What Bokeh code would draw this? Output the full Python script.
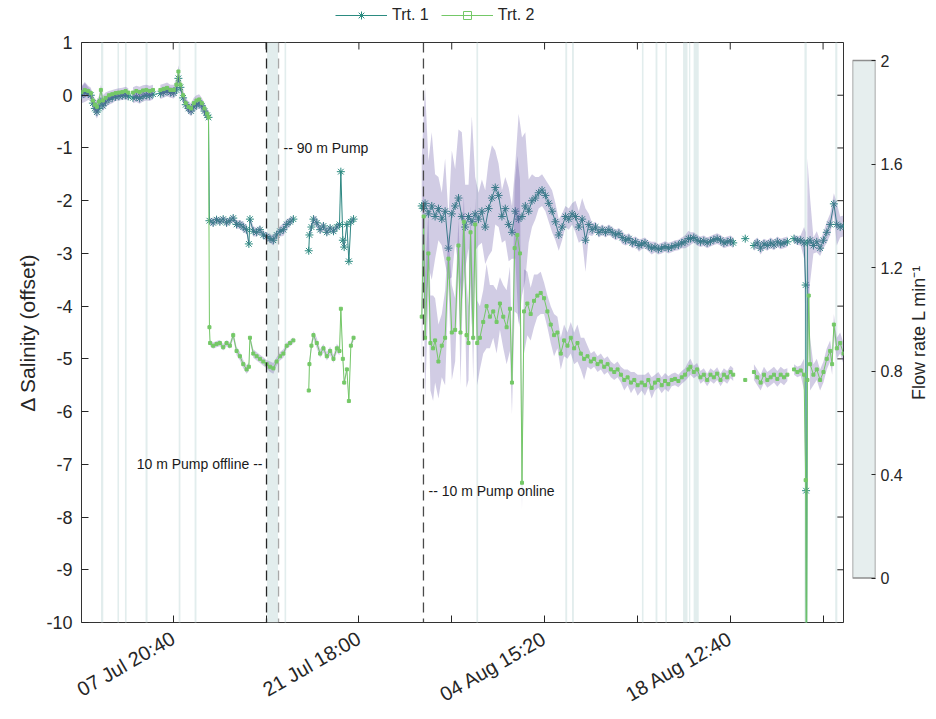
import math
import pandas as pd
from bokeh.plotting import figure
from bokeh.models import Range1d, LinearAxis, FixedTicker, Legend, LegendItem, Span
from bokeh.layouts import row, column
from bokeh.embed import file_html
from bokeh.resources import INLINE
from bokeh.core.properties import value

nan = float("nan")

# ---------------- data (x in days since start_time) ----------------
start_time = "2021-07-01 00:00"

day1 = [
    0.0, 0.25, 0.5, 0.7, 0.85, 1.0, 1.15, 1.3, 1.45, 1.6, 1.8, 2.05, 2.3, 2.55, 2.8, 3.05, 3.3, 3.5,
    3.65,
    3.85, 4.1, 4.35, 4.6, 4.85, 5.1, 5.35,
    5.6,
    5.9, 6.15, 6.4, 6.65, 6.9, 7.1, 7.25, 7.4, 7.6, 7.8, 8.0, 8.2, 8.4, 8.6, 8.8, 9.0, 9.2, 9.4, 9.5,
    9.57, 9.85, 10.1, 10.35, 10.6, 10.85, 11.1, 11.35, 11.6, 11.85, 12.1, 12.35, 12.52, 12.6,
    12.85, 13.1, 13.35, 13.6, 13.85, 14.1, 14.35, 14.6, 14.85, 15.1, 15.35, 15.6, 15.85,
    16.4,
    17.0, 17.05, 17.2, 17.35, 17.6, 17.85, 18.1, 18.35, 18.6, 18.85, 19.1, 19.3, 19.4, 19.55,
    19.65, 19.85, 20.0, 20.15, 20.35,
    22.0,
    25.45, 25.6, 25.7, 25.95, 26.2, 26.45, 26.7, 26.95, 27.2, 27.45,
    27.7, 27.95, 28.2, 28.45, 28.7, 28.95, 29.2, 29.45, 29.7, 29.95,
    30.2, 30.45, 30.7, 30.95, 31.2, 31.45, 31.7, 31.95, 32.2, 32.45,
    32.7, 32.95, 33.2, 33.45, 33.7, 33.95, 34.2, 34.45, 34.7, 34.95,
    35.2, 35.45, 35.7, 35.95, 36.2, 36.45, 36.7, 36.95, 37.2, 37.45,
    37.7, 37.95, 38.2, 38.45, 38.7, 38.95, 39.2, 39.45, 39.7, 39.95,
    40.2, 40.45, 40.7, 40.95, 41.2, 41.45, 41.7, 41.9, 42.15, 42.4,
    42.65, 42.9, 43.15, 43.4, 43.65, 43.9, 44.15, 44.4, 44.65, 44.9,
    45.15, 45.4, 45.55, 45.8, 46.05, 46.3, 46.55, 46.8, 47.05, 47.3,
    47.55, 47.8, 48.05, 48.3, 48.55, 48.75, 49.2, 49.65, 49.9, 50.3,
    50.55, 50.8, 51.05, 51.3, 51.55, 51.8, 52.05, 52.3, 52.55, 52.8,
    53.0, 53.3, 53.55, 53.8, 54.05, 54.17, 54.2, 54.23, 54.3, 54.5,
    54.75, 55.0, 55.25, 55.5, 55.75, 56.0, 56.28, 56.5, 56.75, 57.0,
]
trt1 = [
    0.0, 0.05, 0.03, 0.0, -0.15, -0.25, -0.32, -0.25, -0.12, -0.2, -0.13, -0.08, -0.05, -0.03, -0.02, -0.01, 0.0, -0.02,
    nan,
    -0.05, -0.03, -0.06, -0.02, 0.0, -0.01, 0.02,
    nan,
    0.03, 0.05, 0.08, 0.05, 0.04, 0.1, 0.32, 0.15, -0.05, -0.18, -0.25, -0.3, -0.22, -0.18, -0.15, -0.2, -0.3, -0.38, -0.42,
    -2.38, -2.42, -2.36, -2.4, -2.35, -2.42, -2.38, -2.33, -2.45, -2.45, -2.5, -2.55, -2.82, -2.35,
    -2.58, -2.6, -2.55, -2.65, -2.68, -2.72, -2.75, -2.65, -2.58, -2.55, -2.45, -2.4, -2.35,
    nan,
    -2.95, -2.65, -2.5, -2.35, -2.42, -2.55, -2.48, -2.6, -2.52, -2.58, -2.5, -2.45, -1.45, -2.75,
    -2.88, -2.45, -3.15, -2.4, -2.35,
    nan,
    -2.1, -2.15, -2.05, -2.25, -2.1, -2.3, -2.15, -2.35, -2.2, -2.9,
    -2.25, -2.1, -1.95, -2.3, -2.5, -2.3, -2.4, -2.25, -2.35, -2.2,
    -2.5, -2.15, -1.95, -1.75, -1.9, -2.3, -2.15, -2.45, -2.6, -2.2,
    -2.35, -2.3, -2.1, -2.2, -2.0, -1.95, -1.85, -1.8, -1.9, -2.05,
    -2.2, -2.4, -2.65, -2.5, -2.3, -2.35, -2.25, -2.3, -2.5, -2.35,
    -2.75, -2.45, -2.55, -2.5, -2.6, -2.55, -2.6, -2.55, -2.6, -2.65,
    -2.62, -2.7, -2.75, -2.72, -2.8, -2.78, -2.85, -2.82, -2.8, -2.86,
    -2.9, -2.88, -2.92, -2.9, -2.87, -2.9, -2.88, -2.85, -2.84, -2.8,
    -2.78, -2.72, -2.72, -2.7, -2.75, -2.78, -2.76, -2.8, -2.77, -2.74,
    -2.72, -2.75, -2.8, -2.78, -2.76, -2.8, nan, -2.72, nan, -2.85,
    -2.8, -2.9, -2.82, -2.85, -2.8, -2.84, -2.78, -2.82, -2.8, -2.78,
    nan, -2.72, -2.76, -2.75, -2.8, -3.6, -7.5, -12.0, -2.8, -2.75,
    -2.85, -2.78, -2.9, -2.75, -2.6, -2.45, -2.06, -2.45, -2.5, -2.48,
]
sd1 = [
    0.15, 0.18, 0.12, 0.1, 0.12, 0.12, 0.12, 0.1, 0.1, 0.1, 0.1, 0.1, 0.1, 0.08, 0.08, 0.08, 0.08, 0.08,
    0.0,
    0.1, 0.1, 0.1, 0.1, 0.1, 0.1, 0.1,
    0.0,
    0.1, 0.1, 0.1, 0.1, 0.1, 0.1, 0.12, 0.1, 0.1, 0.1, 0.1, 0.1, 0.1, 0.1, 0.1, 0.1, 0.1, 0.08, 0.08,
    0.06, 0.08, 0.06, 0.07, 0.06, 0.08, 0.06, 0.07, 0.08, 0.08, 0.1, 0.08, 0.06, 0.06,
    0.1, 0.08, 0.08, 0.07, 0.08, 0.08, 0.1, 0.08, 0.1, 0.12, 0.1, 0.08, 0.06,
    0.0,
    0.06, 0.06, 0.08, 0.08, 0.1, 0.08, 0.08, 0.08, 0.06, 0.06, 0.06, 0.05, 0.05, 0.05,
    0.05, 0.05, 0.05, 0.05, 0.05,
    0.0,
    0.9, 1.8, 2.2, 1.0, 1.4, 0.8, 0.6, 0.5, 1.0, 0.6,
    1.2, 0.7, 1.3, 1.6, 0.8, 0.6, 2.0, 0.7, 0.5, 0.6,
    0.7, 0.9, 1.0, 0.7, 0.6, 0.5, 0.6, 0.7, 0.5, 0.9,
    2.0, 1.5, 1.4, 0.6, 0.5, 0.4, 0.3, 0.3, 0.3, 0.35,
    0.4, 0.35, 0.3, 0.25, 0.2, 0.2, 0.2, 0.3, 0.3, 0.4,
    0.6, 0.2, 0.12, 0.1, 0.1, 0.1, 0.1, 0.1, 0.1, 0.1,
    0.1, 0.12, 0.1, 0.1, 0.1, 0.1, 0.12, 0.1, 0.1, 0.1,
    0.12, 0.1, 0.1, 0.1, 0.1, 0.1, 0.1, 0.1, 0.1, 0.1,
    0.12, 0.15, 0.12, 0.1, 0.1, 0.1, 0.1, 0.1, 0.1, 0.1,
    0.1, 0.1, 0.1, 0.1, 0.1, 0.1, 0.0, 0.05, 0.0, 0.1,
    0.1, 0.12, 0.1, 0.1, 0.1, 0.1, 0.1, 0.1, 0.1, 0.1,
    0.0, 0.08, 0.08, 0.1, 0.3, 1.0, 0.5, 0.5, 1.6, 0.8,
    0.15, 0.2, 0.15, 0.15, 0.2, 0.2, 0.2, 0.4, 0.2, 0.2,
]

day2 = [
    0.0, 0.25, 0.5, 0.7, 0.85, 1.0, 1.15, 1.3, 1.45, 1.6, 1.8, 2.05, 2.3, 2.55, 2.8, 3.05, 3.3, 3.5,
    3.65,
    3.85, 4.1, 4.35, 4.6, 4.85, 5.1, 5.35,
    5.6,
    5.9, 6.15, 6.4, 6.65, 6.9, 7.1, 7.25, 7.4, 7.6, 7.8, 8.0, 8.2, 8.4, 8.6, 8.8, 9.0, 9.2, 9.4, 9.5,
    9.57, 9.62, 9.85, 10.1, 10.35, 10.6, 10.85, 11.1, 11.35, 11.6, 11.85, 12.1, 12.35, 12.52,
    12.6, 12.85, 13.1, 13.35, 13.6, 13.85, 14.1, 14.35, 14.6, 14.85, 15.1, 15.35, 15.6, 15.85,
    16.4,
    17.0, 17.05, 17.2, 17.35, 17.6, 17.85, 18.1, 18.35, 18.6, 18.85, 19.1, 19.3, 19.4, 19.55,
    19.65, 19.85, 20.0, 20.15, 20.35,
    22.0,
    25.45, 25.6, 25.7, 25.95, 26.1, 26.3, 26.45, 26.7, 26.95, 27.2,
    27.45, 27.7, 27.95, 28.2, 28.35, 28.6, 28.8, 28.95, 29.1, 29.3,
    29.45, 29.6, 29.8, 30.05, 30.3, 30.55, 30.8, 31.05, 31.3, 31.55,
    31.8, 32.05, 32.2, 32.4, 32.6, 32.8, 32.95, 33.1, 33.35, 33.6,
    33.85, 34.1, 34.35, 34.6, 34.85, 35.1, 35.35, 35.6, 35.85, 36.1,
    36.35, 36.6, 36.85, 37.1, 37.35, 37.6, 37.85, 38.1, 38.35, 38.6,
    38.85, 39.1, 39.35, 39.6, 39.85, 40.1, 40.35, 40.6, 40.85, 41.1,
    41.35, 41.6, 41.9, 42.15, 42.4, 42.65, 42.9, 43.15, 43.4, 43.65,
    43.9, 44.15, 44.4, 44.65, 44.9, 45.15, 45.4, 45.55, 45.8, 46.05,
    46.3, 46.55, 46.8, 47.05, 47.3, 47.55, 47.8, 48.05, 48.3, 48.55,
    48.75, 49.2, 49.65, 49.9, 50.3, 50.55, 50.8, 51.05, 51.3, 51.55,
    51.8, 52.05, 52.3, 52.55, 52.8, 53.0, 53.3, 53.55, 53.8, 54.05,
    54.17, 54.23, 54.3, 54.4, 54.5, 54.75, 55.0, 55.25, 55.5, 55.75,
    56.0, 56.15, 56.28, 56.5, 56.75, 57.0,
]
trt2 = [
    0.06, 0.1, 0.08, 0.04, -0.1, -0.18, -0.22, -0.12, 0.1, -0.1, -0.05, 0.0, 0.02, 0.04, 0.05, 0.06, 0.08, 0.05,
    nan,
    0.05, 0.08, 0.06, 0.09, 0.1, 0.08, 0.1,
    nan,
    0.1, 0.12, 0.14, 0.1, 0.1, 0.2, 0.45, 0.2, 0.0, -0.15, -0.22, -0.25, -0.15, -0.1, -0.08, -0.15, -0.25, -0.35, -0.42,
    -4.4, -4.7, -4.75, -4.72, -4.7, -4.78, -4.7, -4.75, -4.55, -4.85, -4.95, -5.1, -5.2, -5.15,
    -4.6, -4.9, -4.95, -5.0, -5.05, -5.1, -5.15, -5.18, -5.05, -4.95, -4.9, -4.75, -4.7, -4.65,
    nan,
    -5.6, -5.1, -4.75, -4.55, -4.7, -4.9, -4.8, -4.95, -4.85, -5.0, -4.8, -4.85, -4.05, -5.0,
    -5.45, -5.2, -5.8, -4.75, -4.6,
    nan,
    -4.2, -2.3, -4.6, -3.0, -4.7, -4.8, -4.65, -5.05, -4.75, -4.6,
    -3.1, -4.5, -4.45, -2.85, -4.5, -2.4, -4.55, -4.7, -2.6, -4.6,
    -2.45, -4.7, -4.6, -4.3, -4.0, -4.2, -4.1, -4.3, -3.95, -4.2,
    -4.4, -4.05, -5.45, -2.9, -2.65, -3.0, -7.35, -4.1, -3.95, -4.15,
    -3.9, -3.8, -3.75, -3.85, -4.1, -4.35, -4.55, -4.5, -4.9, -4.65,
    -4.75, -4.6, -4.8, -4.7, -4.9, -5.0, -4.95, -5.05, -5.0, -5.1,
    -5.05, -5.15, -5.1, -5.2, -5.25, -5.2, -5.3, -5.4, -5.35, -5.45,
    -5.4, -5.5, -5.45, -5.5, -5.4, -5.55, -5.45, -5.4, -5.5, -5.42,
    -5.48, -5.4, -5.38, -5.42, -5.35, -5.3, -5.2, -5.15, -5.25, -5.2,
    -5.35, -5.3, -5.4, -5.3, -5.35, -5.28, -5.4, -5.3, -5.35, -5.25,
    -5.3, nan, -5.4, nan, -5.25, -5.35, -5.45, -5.3, -5.4, -5.35,
    -5.3, -5.38, -5.3, -5.35, -5.3, nan, -5.2, -5.25, -5.22, -5.3,
    -7.3, -12.0, -5.4, -3.8, -5.1, -5.3, -5.2, -5.4, -5.25, -5.0,
    -4.85, -5.1, -4.35, -4.8, -4.7, -4.9,
]
sd2 = [
    0.12, 0.15, 0.1, 0.1, 0.1, 0.12, 0.12, 0.1, 0.1, 0.1, 0.1, 0.08, 0.08, 0.08, 0.08, 0.08, 0.08, 0.08,
    0.0,
    0.1, 0.1, 0.1, 0.1, 0.1, 0.1, 0.1,
    0.0,
    0.1, 0.1, 0.1, 0.1, 0.1, 0.1, 0.12, 0.1, 0.1, 0.1, 0.1, 0.1, 0.1, 0.1, 0.1, 0.1, 0.1, 0.1, 0.1,
    0.06, 0.06, 0.06, 0.06, 0.06, 0.06, 0.06, 0.06, 0.08, 0.08, 0.08, 0.08, 0.08, 0.08,
    0.06, 0.08, 0.08, 0.08, 0.08, 0.08, 0.1, 0.1, 0.08, 0.08, 0.08, 0.06, 0.06, 0.06,
    0.0,
    0.08, 0.08, 0.08, 0.08, 0.1, 0.08, 0.08, 0.08, 0.08, 0.08, 0.08, 0.08, 0.06, 0.06,
    0.06, 0.06, 0.06, 0.06, 0.06,
    0.0,
    1.0, 0.8, 1.2, 0.8, 0.9, 1.0, 0.8, 0.7, 0.6, 0.9,
    0.5, 0.9, 0.6, 0.5, 1.0, 0.5, 1.0, 0.7, 0.5, 0.8,
    0.5, 0.8, 0.6, 0.6, 0.8, 0.6, 0.5, 0.6, 0.5, 0.6,
    0.7, 0.8, 0.6, 1.2, 1.5, 1.4, 0.5, 0.8, 0.6, 0.5,
    0.5, 0.4, 0.4, 0.3, 0.3, 0.35, 0.4, 0.3, 0.3, 0.3,
    0.25, 0.3, 0.3, 0.35, 0.3, 0.4, 0.2, 0.15, 0.15, 0.15,
    0.15, 0.15, 0.15, 0.15, 0.15, 0.15, 0.15, 0.2, 0.15, 0.2,
    0.15, 0.2, 0.15, 0.2, 0.15, 0.2, 0.15, 0.15, 0.15, 0.15,
    0.15, 0.12, 0.12, 0.12, 0.12, 0.12, 0.15, 0.15, 0.12, 0.12,
    0.12, 0.12, 0.12, 0.12, 0.12, 0.12, 0.12, 0.12, 0.12, 0.12,
    0.12, 0.0, 0.05, 0.0, 0.15, 0.15, 0.15, 0.15, 0.15, 0.15,
    0.15, 0.15, 0.15, 0.15, 0.12, 0.0, 0.1, 0.1, 0.1, 0.3,
    0.5, 0.5, 1.0, 0.6, 0.5, 0.2, 0.2, 0.2, 0.2, 0.2,
    0.2, 0.2, 0.2, 0.2, 0.2, 0.2,
]

# periods with pumped flow (light vertical bands), days
band_start = [1.46, 2.69, 3.25, 4.79, 7.27, 8.46, 13.88, 15.19, 29.54, 36.19, 36.69,
              41.92, 42.94, 43.67, 45.0, 45.44, 45.79, 54.08, 56.38]
band_end = [1.63, 2.81, 3.375, 4.94, 7.40, 8.60, 14.70, 15.31, 29.67, 36.33, 36.83,
            42.04, 43.08, 43.79, 45.33, 45.54, 46.17, 54.25, 56.54]

# events (dashed lines) and their notes
event_days = [13.84, 14.74, 25.58]
event_text = ["10 m Pump offline --", "-- 90 m Pump", "-- 10 m Pump online"]
event_text_y = [-7.0, -1.0, -7.5]

# axes
x_end_day = 57.0
tick_times = ["2021-07-07 20:40", "2021-07-14 19:20", "2021-07-21 18:00", "2021-07-28 16:40",
              "2021-08-04 15:20", "2021-08-11 14:00", "2021-08-18 12:40", "2021-08-25 11:20"]
tick_labels = ["07 Jul 20:40", "", "21 Jul 18:00", "", "04 Aug 15:20", "", "18 Aug 12:40", ""]
y_ticks = [-10, -9, -8, -7, -6, -5, -4, -3, -2, -1, 0, 1]
y_labels = ["-10", "-9", "-8", "-7", "-6", "-5", "-4", "-3", "-2", "-1", "0", "1"]
flow_ticks = [0.0, 0.4, 0.8, 1.2, 1.6, 2.0]
flow_labels = ["0", "0.4", "0.8", "1.2", "1.6", "2"]
series_names = ["Trt. 1", "Trt. 2"]

assert len(day1) == len(trt1) == len(sd1), (len(day1), len(trt1), len(sd1))
assert len(day2) == len(trt2) == len(sd2), (len(day2), len(trt2), len(sd2))

# ---------------- helpers ----------------
T0_MS = pd.Timestamp(start_time).value // 10**6
DAY_MS = 86_400_000


def to_ms(days):
    return [T0_MS + d * DAY_MS for d in days]


FONT = "Liberation Sans"
TXT = "#262626"
C1 = "#2b8b80"
C2 = "#74c867"
ENV = "#6656a6"
BAND = "#e2eded"
FLOW_FILL = "#e6eeee"
LEG_H = 30                     # height of the legend strip above the plots
TOP, BOTTOM = 12, 97           # shared frame borders of the plot row
ROW_H = 719 - LEG_H

x1 = to_ms(day1)
x2 = to_ms(day2)
tick_ms = [pd.Timestamp(t).value // 10**6 for t in tick_times]
x_lo, x_hi = T0_MS, T0_MS + x_end_day * DAY_MS

p = figure(width=851, height=ROW_H, x_range=Range1d(x_lo, x_hi),
           y_range=Range1d(y_ticks[0], y_ticks[-1]), x_axis_type=None, y_axis_type=None,
           output_backend="svg", toolbar_location=None,
           min_border_left=81, min_border_right=8, min_border_top=TOP, min_border_bottom=BOTTOM)
p.outline_line_color = "#333333"
p.outline_line_width = 1
p.background_fill_color = "white"
p.border_fill_color = "white"


def style_axis(ax, size):
    ax.axis_line_color = None
    ax.major_tick_line_color = TXT
    ax.major_tick_in = 7
    ax.major_tick_out = 0
    ax.minor_tick_line_color = None
    ax.major_label_text_font = FONT
    ax.major_label_text_font_size = size
    ax.major_label_text_color = TXT
    ax.axis_label_text_font = FONT
    ax.axis_label_text_font_style = "normal"
    ax.axis_label_text_color = TXT


yl = LinearAxis(ticker=FixedTicker(ticks=y_ticks), axis_label="\u0394 Salinity (offset)",
                major_label_overrides=dict(zip(y_ticks, y_labels)))
style_axis(yl, "18px")
yl.major_label_standoff = 9
yl.axis_label_text_font_size = "21px"
yl.axis_label_standoff = 4
p.add_layout(yl, "left")

xb = LinearAxis(ticker=FixedTicker(ticks=tick_ms),
                major_label_overrides=dict(zip(tick_ms, tick_labels)))
style_axis(xb, "20px")
xb.major_label_orientation = math.radians(30)
xb.major_label_standoff = 14
p.add_layout(xb, "below")

# mirrored box ticks on the right and top edges (half of each dash is clipped by the frame)
p.scatter(x=[x_hi] * len(y_ticks), y=y_ticks, marker="dash", size=14, line_color=TXT, line_width=1)
p.scatter(x=tick_ms, y=[y_ticks[-1]] * len(tick_ms), marker="dash", angle=math.pi / 2, size=14,
          line_color=TXT, line_width=1)

# flow-rate bands
p.quad(left=to_ms(band_start), right=to_ms(band_end), bottom=y_ticks[0], top=y_ticks[-1],
       fill_color=BAND, line_color=None)

# Trt. 1
p.line(x1, trt1, line_color=C1, line_width=1)
p.scatter(x1, trt1, marker="asterisk", size=8, line_color=C1, line_width=1)


# envelopes (mean +/- sd)
def chunks(x, v, s):
    out, cur = [], []
    for xi, vi, si in zip(x, v, s):
        if vi != vi:
            if cur:
                out.append(cur)
            cur = []
        else:
            cur.append((xi, vi - si, vi + si))
    if cur:
        out.append(cur)
    return out


for x, v, s in ((x1, trt1, sd1), (x2, trt2, sd2)):
    for c in chunks(x, v, s):
        if len(c) < 2:
            continue
        p.varea(x=[a for a, _, _ in c], y1=[b for _, b, _ in c], y2=[d for _, _, d in c],
                fill_color=ENV, fill_alpha=0.3)

# Trt. 2
p.line(x2, trt2, line_color=C2, line_width=1)
p.scatter(x2, trt2, marker="square", size=3, fill_color=C2, line_color=C2)

# events
ev_colors = ["#262626", "#a8a8a8", "#4a4a4a"]
for d, col in zip(event_days, ev_colors):
    p.add_layout(Span(location=to_ms([d])[0], dimension="height", line_color=col,
                      line_dash="10 6", line_width=1.3))
p.text(x=to_ms(event_days[:1]), y=event_text_y[:1], text=event_text[:1], text_align="right",
       text_baseline="middle", x_offset=-4, text_font=value(FONT), text_font_size="14px",
       text_color="#1a1a1a")
p.text(x=to_ms(event_days[1:]), y=event_text_y[1:], text=event_text[1:], text_align="left",
       text_baseline="middle", x_offset=5, text_font=value(FONT), text_font_size="14px",
       text_color="#1a1a1a")

# legend strip above the plots (same glyph styles as the series; the one sample point of
# each legend renderer lies outside this strip's ranges, so only the legend glyph shows)
lf = figure(width=851, height=LEG_H, x_range=Range1d(0, 1), y_range=Range1d(0, 1),
            x_axis_type=None, y_axis_type=None, output_backend="svg", toolbar_location=None,
            min_border_left=81, min_border_right=8, min_border_top=0, min_border_bottom=0)
lf.outline_line_color = None
off = [-5.0]
lf_l1 = lf.line(x=off, y=off, line_color=C1, line_width=1)
lf_m1 = lf.scatter(x=off, y=off, marker="asterisk", size=8, line_color=C1, line_width=1)
lf_l2 = lf.line(x=off, y=off, line_color=C2, line_width=1)
lf_m2 = lf.scatter(x=off, y=off, marker="square", size=6, fill_color=None, line_color=C2)
legend = Legend(items=[LegendItem(label=series_names[0], renderers=[lf_l1, lf_m1]),
                       LegendItem(label=series_names[1], renderers=[lf_l2, lf_m2])],
                location=(254, 5), orientation="horizontal", glyph_width=52, glyph_height=20,
                label_text_font=FONT, label_text_font_size="16px", label_text_color=TXT,
                spacing=12, padding=0, margin=0, border_line_color=None,
                background_fill_alpha=0, label_standoff=5)
lf.add_layout(legend)

# flow-rate colour bar: the bar spans 0..2, placed at pixels 60..577 of the 42..622 frame
px_per_unit = (577.5 - 60.0) / (flow_ticks[-1] - flow_ticks[0])
flow_range = Range1d(flow_ticks[0] - (622 - 577.5) / px_per_unit,
                     flow_ticks[-1] + (60 - 42) / px_per_unit)

p2 = figure(width=54, height=ROW_H, x_range=Range1d(0, 1), y_range=flow_range,
            x_axis_type=None, y_axis_type=None, output_backend="svg", toolbar_location=None,
            min_border_left=1, min_border_right=28, min_border_top=TOP, min_border_bottom=BOTTOM)
p2.outline_line_color = None
p2.quad(left=[0], right=[1], bottom=[flow_ticks[0]], top=[flow_ticks[-1]],
        fill_color=FLOW_FILL, line_color="#8f8f8f", line_width=1.5)
fa = LinearAxis(ticker=FixedTicker(ticks=flow_ticks),
                major_label_overrides=dict(zip(flow_ticks, flow_labels)))
style_axis(fa, "16px")
fa.major_tick_in = 4
fa.major_label_standoff = 5
p2.add_layout(fa, "right")

# the colour bar's title, reading bottom-to-top
p3 = figure(width=31, height=ROW_H, x_range=Range1d(0, 1), y_range=flow_range,
            x_axis_type=None, y_axis_type=None, output_backend="svg", toolbar_location=None,
            min_border_left=0, min_border_right=0, min_border_top=TOP, min_border_bottom=BOTTOM)
p3.outline_line_color = None
la = LinearAxis(ticker=FixedTicker(ticks=[]), axis_label="Flow rate L min\u207b\u00b9")
style_axis(la, "16px")
la.major_tick_in = 0
la.major_label_standoff = 0
la.axis_label_text_font_size = "18px"
la.axis_label_standoff = 0
p3.add_layout(la, "left")

layout = column(lf, row(p, p2, p3))
open("out.html", "w").write(file_html(layout, INLINE))
